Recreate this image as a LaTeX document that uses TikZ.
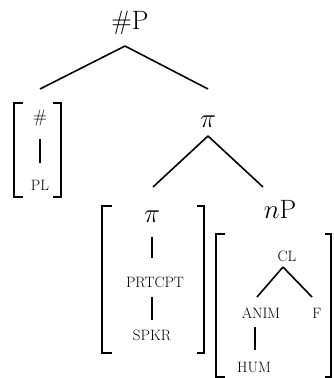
\documentclass[tikz,border=0pt]{standalone}
\usepackage{fontspec}
\usepackage{tikz}
\begin{document}
\begin{tikzpicture}[x=1pt,y=-1pt,
  big/.style={inner sep=0pt,anchor=base,font=\fontsize{26.5}{31}\selectfont\addfontfeature{FakeBold=0.4}},
  bigmath/.style={inner sep=0pt,anchor=base,font=\fontsize{24.88}{30}\selectfont,scale=1.085},
  feat/.style={inner sep=0pt,anchor=base,font=\fontsize{15}{18}\selectfont\addfontfeature{FakeBold=0.6}},
  branch/.style={line width=1.6pt},
  bar/.style={line width=2pt},
  brack/.style={line width=1.9pt}]
\useasboundingbox (0,0) rectangle (333,378);

% top tree
\node[big] (hashP) at (130,29) {\#P};
\node[bigmath] (piA) at (208,127) {$\pi$};

% left feature bundle
\node[inner sep=0pt,font=\fontsize{18}{21}\selectfont\addfontfeature{FakeBold=0.5}] (num) at (40,118.5) {\#};
\node[feat] (pl) at (40,190) {PL};
\draw[bar] ([yshift=-20pt]num.center) -- ([yshift=27pt]pl.base);
\draw[brack] (23,103) -- (14,103) -- (14,197) -- (23,197);
\draw[brack] (53,103) -- (61,103) -- (61,197) -- (53,197);

% branches of #P
\draw[branch] ([xshift=-5pt,yshift=-17pt]hashP.base) -- ([yshift=29.5pt]num.center);
\draw[branch] ([xshift=-5pt,yshift=-17pt]hashP.base) -- ([yshift=38pt]piA.base);

% branches of pi
\draw[branch] ([yshift=-9pt]piA.base) -- ([xshift=-55pt,yshift=-60pt]piA.base);
\draw[branch] ([yshift=-9pt]piA.base) -- ([xshift=55pt,yshift=-60pt]piA.base);

% pi feature bundle
\node[bigmath] (piB) at (152,222) {$\pi$};
\node[feat] (prt) at (155,287) {PRTCPT};
\node[feat] (spkr) at (152,340) {SPKR};
\draw[bar] ([yshift=-15pt]piB.base) -- ([xshift=-3pt,yshift=29pt]prt.base);
\draw[bar] ([xshift=-3pt,yshift=-10pt]prt.base) -- ([yshift=20pt]spkr.base);
\draw[brack] (112,206) -- (102,206) -- (102,353) -- (112,353);
\draw[brack] (197,206) -- (204,206) -- (204,353) -- (197,353);

% nP feature bundle
\node[big] (nP) at (280,218) {\fontsize{24.88}{30}\selectfont\scalebox{1.085}{$n$}\fontsize{26.5}{31}\selectfont P};
\node[feat] (cl) at (287,261) {CL};
\node[feat] (anim) at (261,318) {ANIM};
\node[feat] (f) at (317,318) {F};
\node[feat] (hum) at (254,372) {HUM};
\draw[branch] ([xshift=-4pt,yshift=-6pt]cl.base) -- ([xshift=-4pt,yshift=21pt]anim.base);
\draw[branch] ([xshift=-4pt,yshift=-6pt]cl.base) -- ([xshift=-5pt,yshift=21pt]f.base);
\draw[bar] ([xshift=-6pt,yshift=-9pt]anim.base) -- ([xshift=1pt,yshift=22pt]hum.base);
\draw[brack] (225,234) -- (216,234) -- (216,377) -- (225,377);
\draw[brack] (325,234) -- (331,234) -- (331,377) -- (325,377);
\end{tikzpicture}
\end{document}
